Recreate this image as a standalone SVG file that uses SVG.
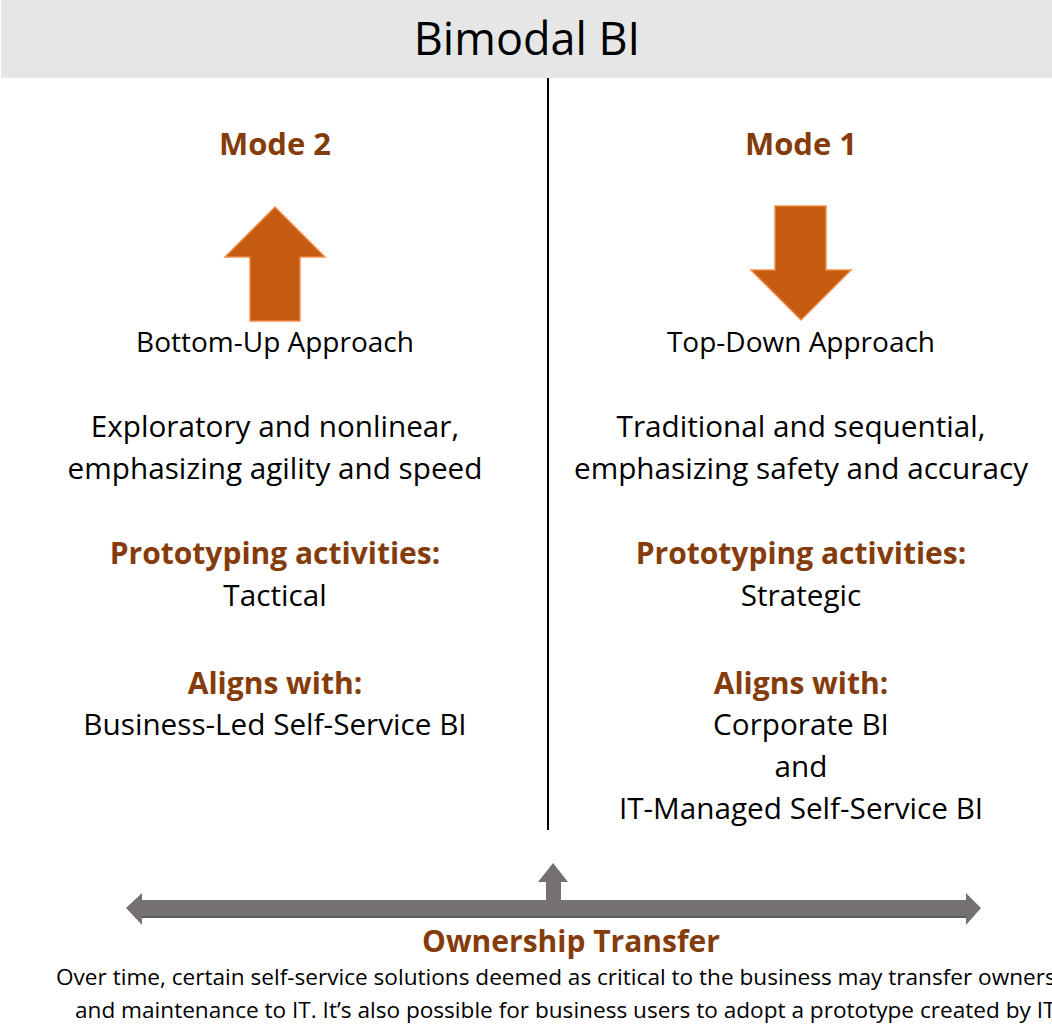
<svg xmlns="http://www.w3.org/2000/svg" width="1052" height="1027" viewBox="0 0 1052 1027">
<style>
text{font-family:"Open Sans","Noto Sans","DejaVu Sans",sans-serif;text-anchor:middle;fill:#000}
.h{font-weight:bold;fill:#843c0c;font-size:30px}
.m{font-size:29.7px}
.s{font-size:28px}
.p{font-size:22.6px}
.oa{fill:#c55a11;stroke:#f08c4c;stroke-width:1.5}
.ga{fill:#767171}
</style>
<rect x="1" y="0" width="1051" height="78" fill="#e6e6e6"/>
<text x="527" y="55" font-size="45">Bimodal BI</text>
<g id="connectors">
<line x1="548" y1="78" x2="548" y2="830" stroke="#000" stroke-width="2"/>
</g>
<g id="mode2">
<text class="h" x="275" y="155" style="font-size:31px">Mode 2</text>
<polygon class="oa" points="275,207 325,257 300,257 300,321 250,321 250,257 225,257"/>
<text class="s" x="275" y="352">Bottom-Up Approach</text>
<text class="m" x="275" y="437">Exploratory and nonlinear,</text>
<text class="m" x="275" y="479">emphasizing agility and speed</text>
<text class="h" x="275" y="564">Prototyping activities:</text>
<text class="m" x="275" y="606">Tactical</text>
<text class="h" x="275" y="694">Aligns with:</text>
<text class="m" x="275" y="735">Business-Led Self-Service BI</text>
</g>
<g id="mode1">
<text class="h" x="801" y="155" style="font-size:31px">Mode 1</text>
<polygon class="oa" points="775,206 826,206 826,270 851,270 801,320 751,270 775,270"/>
<text class="s" x="801" y="352">Top-Down Approach</text>
<text class="m" x="801" y="437">Traditional and sequential,</text>
<text class="m" x="801" y="479">emphasizing safety and accuracy</text>
<text class="h" x="801" y="564">Prototyping activities:</text>
<text class="m" x="801" y="606">Strategic</text>
<text class="h" x="801" y="694">Aligns with:</text>
<text class="m" x="801" y="735">Corporate BI</text>
<text class="m" x="801" y="777">and</text>
<text class="m" x="801" y="819">IT-Managed Self-Service BI</text>
</g>
<g id="ownership">
<polygon class="ga" points="126,908 142,893 142,900 546,900 546,882 538,882 553,863 568,882 561,882 561,900 966,900 966,893 981,908 966,925 966,918 142,918 142,925"/>
<line x1="142" y1="917" x2="966" y2="917" stroke="#5f5b5b" stroke-width="2"/>
<text class="h" x="571" y="952">Ownership Transfer</text>
<text class="p" x="56" y="985" style="text-anchor:start">Over time, certain self-service solutions deemed as critical to the business may transfer ownership</text>
<text class="p" x="75" y="1018" style="text-anchor:start">and maintenance to IT. It’s also possible for business users to adopt a prototype created by IT.</text>
</g>
</svg>
